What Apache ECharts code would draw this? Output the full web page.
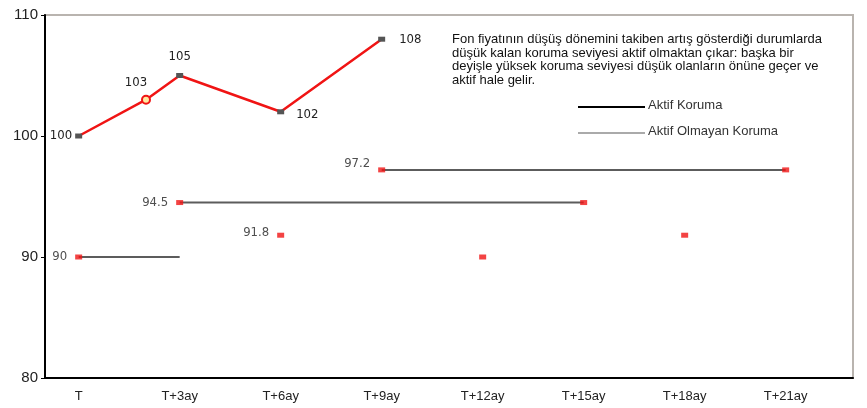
<!DOCTYPE html>
<html>
<head>
<meta charset="utf-8">
<script src="https://cdn.jsdelivr.net/npm/echarts@6/dist/echarts.min.js"></script>
<style>
  html, body { margin: 0; padding: 0; background: #fff; }
  #chart { width: 867px; height: 408px; }
</style>
</head>
<body>
<div id="chart"></div>
<script>
// Time axis in months from T
const tickMonths = [0, 3, 6, 9, 12, 15, 18, 21];
const tickLabels = ['T', 'T+3ay', 'T+6ay', 'T+9ay', 'T+12ay', 'T+15ay', 'T+18ay', 'T+21ay'];

// Fund price path
const priceMonths = [0, 2, 3, 6, 9];
const priceValues = [100, 103, 105, 102, 108];

// Protection level recorded at each quarter
const protMonths = [0, 3, 6, 9, 12, 15, 18, 21];
const protValues = [90, 94.5, 91.8, 97.2, 90, 94.5, 91.8, 97.2];
const protLabelled = [true, true, true, true, false, false, false, false];

// Periods during which a protection level stays in force: [start month, end month, level]
const activeSpans = [
  [0, 3, 90],
  [3, 15, 94.5],
  [9, 21, 97.2]
];

const noteLines = [
  'Fon fiyatının düşüş dönemini takiben artış gösterdiği durumlarda',
  'düşük kalan koruma seviyesi aktif olmaktan çıkar: başka bir',
  'deyişle yüksek koruma seviyesi düşük olanların önüne geçer ve',
  'aktif hale gelir.'
];
const legendActive = 'Aktif Koruma';
const legendInactive = 'Aktif Olmayan Koruma';

const RED = '#f01414';
const LINE_GREY = '#5c5c5c';
const baseFont = '"Liberation Sans", Arial, sans-serif';
const valueFont = '"DejaVu Sans Condensed", "Liberation Sans Narrow", sans-serif';

// label placement per price point
const priceLabelStyle = [
  { position: 'left', distance: 3 },
  { position: 'top', distance: 6, offset: [-10, 0] },
  { position: 'top', distance: 10 },
  { position: 'right', distance: 12, offset: [0, 3] },
  { position: 'right', distance: 14 }
];

const priceData = priceMonths.map((m, i) => {
  const isRing = i === 1;
  return {
    value: [m, priceValues[i]],
    symbol: isRing ? 'circle' : 'rect',
    symbolSize: isRing ? 8 : [7, 5],
    itemStyle: isRing
      ? { color: '#ffe9a0', borderColor: RED, borderWidth: 2 }
      : { color: '#555555', borderWidth: 0 },
    label: Object.assign({ show: true, formatter: String(priceValues[i]) }, priceLabelStyle[i])
  };
});

const protData = protMonths.map((m, i) => ({
  value: [m, protValues[i]],
  label: {
    show: protLabelled[i],
    position: 'left',
    distance: 8,
    offset: i === 2 ? [0, -3] : (i === 3 ? [0, -6] : [0, 0]),
    formatter: String(protValues[i])
  }
}));

const spanSeries = activeSpans.map(s => ({
  type: 'line',
  data: [[s[0], s[2]], [s[1], s[2]]],
  symbol: 'none',
  silent: true,
  z: 2,
  lineStyle: { color: LINE_GREY, width: 2 }
}));

const chart = echarts.init(document.getElementById('chart'), null, { renderer: 'canvas' });

chart.setOption({
  animation: false,
  backgroundColor: '#ffffff',
  grid: {
    left: 45, right: 14, top: 15, bottom: 30,
    show: true, borderColor: '#b9b4af', borderWidth: 2, backgroundColor: 'transparent'
  },
  xAxis: {
    type: 'value',
    min: -1,
    max: 23,
    splitLine: { show: false },
    axisLine: { show: true, onZero: false, lineStyle: { color: '#000', width: 2 } },
    axisTick: { show: false },
    axisLabel: {
      customValues: tickMonths,
      formatter: v => tickLabels[tickMonths.indexOf(v)] || '',
      fontFamily: baseFont,
      fontSize: 13,
      color: '#222',
      margin: 12
    }
  },
  yAxis: {
    type: 'value',
    min: 80,
    max: 110,
    interval: 10,
    splitLine: { show: false },
    axisLine: { show: true, onZero: false, lineStyle: { color: '#000', width: 2 } },
    axisTick: { show: true, length: 4, lineStyle: { color: '#000', width: 1 } },
    axisLabel: { fontFamily: baseFont, fontSize: 15, color: '#222', margin: 7 }
  },
  series: [
    ...spanSeries,
    {
      type: 'scatter',
      data: protData,
      symbol: 'rect',
      symbolSize: [7, 5],
      z: 4,
      itemStyle: { color: RED },
      label: { fontFamily: valueFont, fontSize: 13, color: '#222' }
    },
    {
      type: 'line',
      data: priceData,
      z: 5,
      lineStyle: { color: RED, width: 2.5 },
      label: { fontFamily: valueFont, fontSize: 13, color: '#222' }
    }
  ],
  graphic: [
    {
      type: 'text',
      left: 452, top: 33,
      style: {
        text: noteLines.join('\n'),
        font: '13px ' + baseFont,
        fill: '#111',
        lineHeight: 13.5
      }
    },
    { type: 'line', shape: { x1: 578, y1: 107, x2: 645, y2: 107 }, style: { stroke: '#000', lineWidth: 2 } },
    { type: 'text', left: 648, top: 99, style: { text: legendActive, font: '13px ' + baseFont, fill: '#333' } },
    { type: 'line', shape: { x1: 578, y1: 133, x2: 645, y2: 133 }, style: { stroke: '#aaaaaa', lineWidth: 2 } },
    { type: 'text', left: 648, top: 125, style: { text: legendInactive, font: '13px ' + baseFont, fill: '#333' } }
  ]
});
</script>
</body>
</html>
